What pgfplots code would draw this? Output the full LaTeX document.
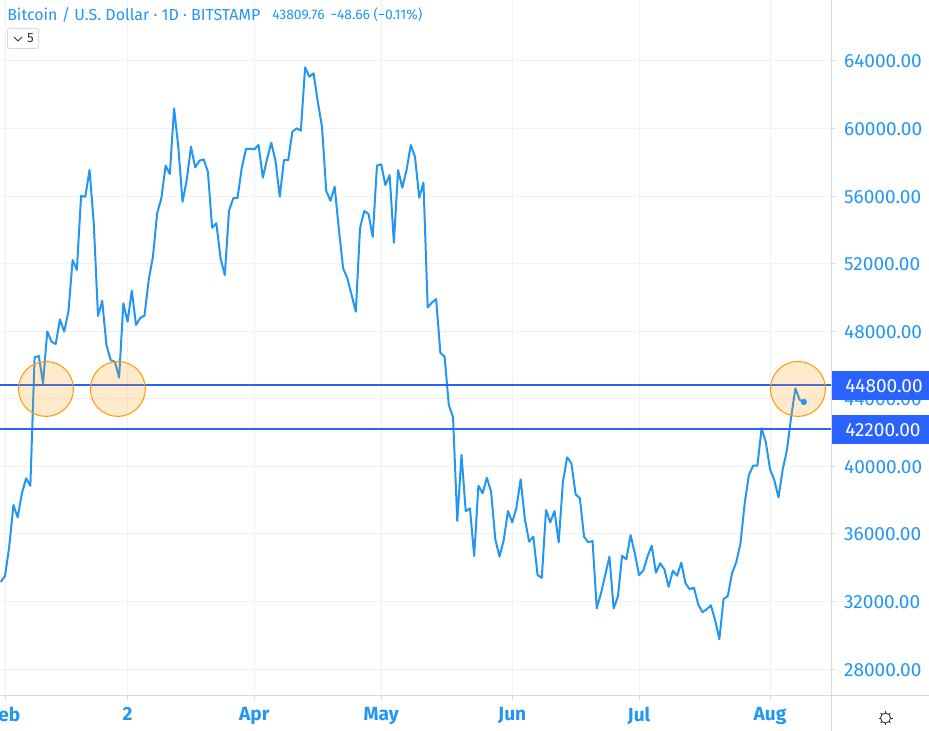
\documentclass[border=0pt]{standalone}
\usepackage{pgfplots}
\usepackage{pgfplotstable}
\pgfplotsset{compat=1.18}
\usepackage{fontspec}
\setmainfont{Fira Sans}
\definecolor{tvblue}{HTML}{2196F3}
\definecolor{hline}{HTML}{2962FF}
\definecolor{gridc}{HTML}{F0F1F4}
\definecolor{axisc}{HTML}{DADADA}
\definecolor{circ}{HTML}{FF9800}
\pgfplotstableread{
d v
-1 33150
0 33510
1 35240
2 37710
3 36980
4 38400
5 39290
6 38850
7 46450
8 46530
9 44910
10 47980
11 47380
12 47240
13 48700
14 47970
15 49150
16 52210
17 51620
18 56000
19 55960
20 57540
21 54400
22 48900
23 49790
24 47180
25 46290
26 46190
27 45250
28 49650
29 48560
30 50400
31 48370
32 48780
33 48920
34 51030
35 52410
36 54980
37 55880
38 57800
39 57300
40 61190
41 58920
42 55660
43 56950
44 58920
45 57700
46 58090
47 58170
48 57440
49 54120
50 54390
51 52310
52 51320
53 55130
54 55870
55 55870
56 57640
57 58780
58 58800
59 58770
60 59020
61 57090
62 58190
63 59160
64 58070
65 55960
66 58130
67 58130
68 59810
69 60010
70 59870
71 63620
72 63060
73 63270
74 61580
75 60100
76 56300
77 55720
78 56550
79 53990
80 51720
81 51130
82 50140
83 49150
84 54120
85 55110
86 54940
87 53590
88 57800
89 57880
90 56650
91 57240
92 53240
93 57540
94 56490
95 57540
96 59020
97 58330
98 55900
99 56790
100 49410
101 49690
102 49900
103 46720
104 46490
105 43630
106 42900
107 36760
108 40670
109 37350
110 37510
111 34690
112 38850
113 38400
114 39320
115 38500
116 35680
117 34650
118 35640
119 37350
120 36680
121 37550
122 39230
123 36860
124 35540
125 35830
126 33560
127 33400
128 37410
129 36680
130 37350
131 35500
132 39090
133 40530
134 40180
135 38340
136 38110
137 35830
138 35500
139 35580
140 31590
141 32480
142 33560
143 34650
144 31590
145 32280
146 34710
147 34490
148 35930
149 34850
150 33560
151 33820
152 34650
153 35300
154 33700
155 34260
156 33900
157 32870
158 33820
159 33520
160 34290
161 33070
162 32720
163 32810
164 31830
165 31360
166 31530
167 31770
168 30900
169 29760
170 32140
171 32320
172 33670
173 34320
174 35440
175 37810
176 39490
177 40040
178 40040
179 42250
180 41420
181 39820
182 39190
183 38160
184 39820
185 40970
186 42940
187 44620
188 43930
189 43809.76
}\btcdata
\begin{document}
\begin{tikzpicture}
\begin{axis}[
  at={(0,0)}, anchor=south west, scale only axis,
  width=623.6pt, height=522pt,
  xmin=-1.183, xmax=195.53, ymin=26402, ymax=67605,
  axis line style={draw=none},
  clip=true,
  xtick={0,29,59,89,120,150,181},
  xticklabels={Feb,2,Apr,May,Jun,Jul,Aug},
  ytick={28000,32000,...,64000},
  xtick pos=bottom, ytick pos=right, tick align=outside,
  major tick length=3pt,
  tick style={axisc, line width=0.75pt},
  grid=major, grid style={gridc, line width=0.75pt},
  yticklabel pos=right,
  /pgf/number format/fixed,
  /pgf/number format/fixed zerofill,
  /pgf/number format/precision=2,
  /pgf/number format/1000 sep={},
  /pgf/number format/assume math mode=true,
  yticklabel style={font=\fontsize{14.3}{16}\selectfont, text=tvblue, anchor=west, xshift=6.3pt, yshift=-0.5pt},
  scaled y ticks=false,
  xticklabel style={font=\fontsize{14.3}{16}\selectfont\bfseries, text=tvblue, yshift=-5pt},
  every tick label/.append style={inner sep=0pt},
]
\addplot[tvblue, line width=1.5pt, line join=round] table[x=d,y=v] {\btcdata};
\addplot[hline, line width=1.5pt, forget plot] coordinates {(-1.183,44800) (195.53,44800)};
\addplot[hline, line width=1.5pt, forget plot] coordinates {(-1.183,42200) (195.53,42200)};
\addplot[only marks, mark=*, mark size=20.6pt, mark options={draw=circ, fill=circ, fill opacity=0.2, line width=0.75pt}] coordinates {(9.7,44580) (26.7,44580) (187.6,44580)};
\addplot[only marks, mark=*, mark size=2.1pt, mark options={draw=tvblue, fill=tvblue}] coordinates {(189,43809.76)};
\end{axis}
\begin{scope}[x=0.75pt,y=-0.75pt,yshift=522pt]
\draw[axisc, line width=0.75pt] (831.5,0) -- (831.5,731);
\draw[axisc, line width=0.75pt] (0,696) -- (929,696);
\fill[hline] (831.5,371) rectangle (929,400);
\fill[hline] (831.5,415) rectangle (929,444);
\node[anchor=west, inner sep=0pt, text=white, font=\fontsize{14.3}{16}\selectfont] at (845,386) {44800.00};
\node[anchor=west, inner sep=0pt, text=white, font=\fontsize{14.3}{16}\selectfont] at (845,430) {42200.00};
\node[anchor=west, inner sep=0pt, text=tvblue, font=\fontsize{12}{13}\selectfont] at (7,14.5) {Bitcoin / U.S. Dollar · 1D · BITSTAMP};
\node[anchor=west, inner sep=0pt, text=tvblue, font=\fontsize{10.4}{11}\selectfont] at (272,15) {43809.76};
\node[anchor=west, inner sep=0pt, text=tvblue, font=\fontsize{10.4}{11}\selectfont] at (330,15) {−48.66 (−0.11\%)};
\draw[draw=axisc, fill=white, line width=0.6pt, rounded corners=1.5pt] (7.5,28.5) rectangle (38.5,48.5);
\draw[black!80, line width=0.6pt] (14,37) -- (18,41) -- (22,37);
\node[anchor=center, inner sep=0pt, text=black!80, font=\fontsize{10}{11}\selectfont] at (30.5,38.5) {5};
\draw[black!85, line width=0.6pt] (885.5,718) circle (5);
\foreach \a in {0,45,...,315} \draw[black!85, line width=0.6pt] (885.5,718) ++(\a:5) -- ++(\a:2);
\pgfresetboundingbox
\path[use as bounding box] (0,0) rectangle (929,731);
\end{scope}
\end{tikzpicture}
\end{document}
